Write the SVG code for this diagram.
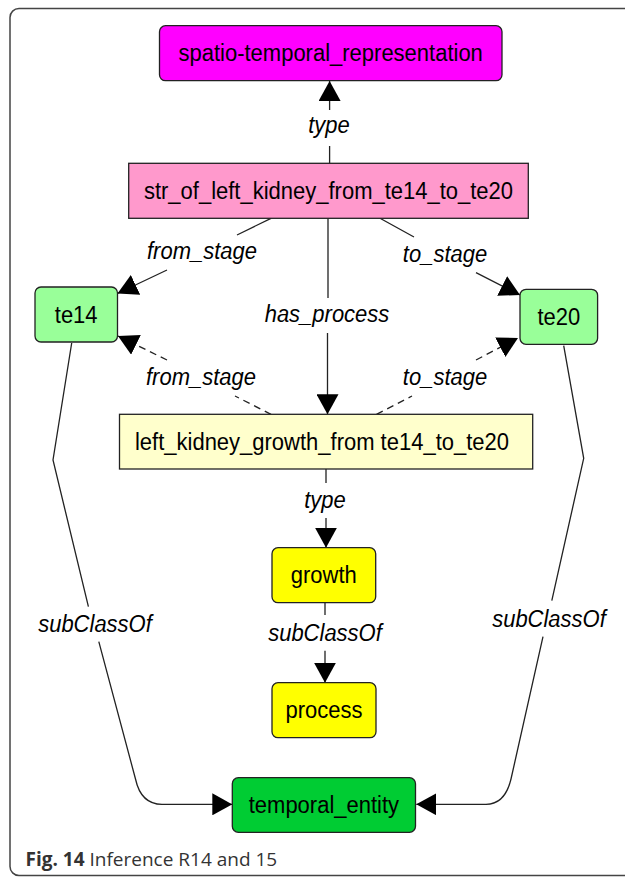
<svg xmlns="http://www.w3.org/2000/svg" width="625" height="878" viewBox="0 0 625 878">
<style>
.node{stroke:#222;stroke-width:1.3}
.nl,.el{font-family:"Liberation Sans",Arial,sans-serif;font-size:22px;fill:#000;text-anchor:middle;transform-box:fill-box;transform-origin:center;transform:scaleY(1.06)}
.el{font-style:italic}
.edge{fill:none;stroke:#222;stroke-width:1.3}
.dash{stroke-dasharray:7 5}
.cap{font-family:"Open Sans","Noto Sans",sans-serif;font-size:19px;fill:#333}
</style>
<defs>
<marker id="arr" viewBox="0 0 20 22" markerWidth="20" markerHeight="22" refX="20" refY="11" orient="auto" markerUnits="userSpaceOnUse">
<path d="M0,0 L20,11 L0,22 z" fill="#000"/>
</marker>
</defs>
<rect x="0" y="0" width="625" height="878" fill="#fff"/>
<rect x="10" y="8.5" width="640" height="867" rx="9" fill="#fff" stroke="#444" stroke-width="1.5"/>

<g id="connectors">
<path class="edge" d="M329.6,163.3 L329.6,146 M329.6,110 L329.6,81" marker-end="url(#arr)"/>
<path class="edge" d="M271,218.3 L237,235 M167,270 L117.5,293.5" marker-end="url(#arr)"/>
<path class="edge" d="M380,218.3 L414,237 M476,272.7 L520,295" marker-end="url(#arr)"/>
<path class="edge" d="M328,218.3 L328,298 M327.5,333 L327.5,414.3" marker-end="url(#arr)"/>
<path class="edge dash" d="M271,414.3 L235,396 M167,360 L118,336" marker-end="url(#arr)"/>
<path class="edge dash" d="M376.5,414.3 L412,396 M476,360 L518,338" marker-end="url(#arr)"/>
<path class="edge" d="M326,469 L326,483 M326,518 L326,547.7" marker-end="url(#arr)"/>
<path class="edge" d="M325,602.7 L325,615 M325,650.7 L325,682.7" marker-end="url(#arr)"/>
<path class="edge" d="M71.7,343 L53,460 L88.4,606.7 M98.8,641.7 L135.5,779 Q141,804.3 162,804.3 L232.3,804.3" marker-end="url(#arr)"/>
<path class="edge" d="M563.7,345.7 L583.7,458.3 L551.8,600.7 M543,636.7 L511,779 Q505,804.3 486,804.3 L416.3,804.3" marker-end="url(#arr)"/>
<text class="el" x="329" y="133">type</text>
<text class="el" x="202" y="258.5">from_stage</text>
<text class="el" x="445" y="261.5">to_stage</text>
<text class="el" x="327" y="322">has_process</text>
<text class="el" x="201" y="385">from_stage</text>
<text class="el" x="445" y="385">to_stage</text>
<text class="el" x="325" y="508">type</text>
<text class="el" x="325" y="641">subClassOf</text>
<text class="el" x="95" y="632">subClassOf</text>
<text class="el" x="549" y="627">subClassOf</text>
</g>

<g id="spatio-temporal_representation">
<rect class="node" x="159.5" y="25.7" width="342.5" height="55" rx="6" fill="#FF00FF"/>
<text class="nl" x="330.7" y="61">spatio-temporal_representation</text>
</g>
<g id="str_of_left_kidney">
<rect class="node" x="128.7" y="163.3" width="399.6" height="55" fill="#FF99CC"/>
<text class="nl" x="328.5" y="198.5">str_of_left_kidney_from_te14_to_te20</text>
</g>
<g id="te14">
<rect class="node" x="35" y="287" width="82.5" height="55" rx="6" fill="#99FF99"/>
<text class="nl" x="76.2" y="322.8">te14</text>
</g>
<g id="te20">
<rect class="node" x="520" y="289.3" width="77.6" height="55" rx="6" fill="#99FF99"/>
<text class="nl" x="558.8" y="325">te20</text>
</g>
<g id="left_kidney_growth">
<rect class="node" x="119.5" y="414.3" width="413.2" height="54.7" fill="#FFFFCC"/>
<text class="nl" x="322" y="450">left_kidney_growth_from te14_to_te20</text>
</g>
<g id="growth">
<rect class="node" x="272" y="547.7" width="103.7" height="55" rx="6" fill="#FFFF00"/>
<text class="nl" x="323.8" y="583">growth</text>
</g>
<g id="process">
<rect class="node" x="272" y="682.7" width="104" height="55" rx="6" fill="#FFFF00"/>
<text class="nl" x="324" y="718">process</text>
</g>
<g id="temporal_entity">
<rect class="node" x="232.3" y="777.7" width="183.2" height="54.6" rx="6" fill="#00CC33"/>
<text class="nl" x="323.9" y="813">temporal_entity</text>
</g>

<text class="cap" x="25.5" y="865.5"><tspan font-weight="bold">Fig. 14</tspan> Inference R14 and 15</text>
</svg>
